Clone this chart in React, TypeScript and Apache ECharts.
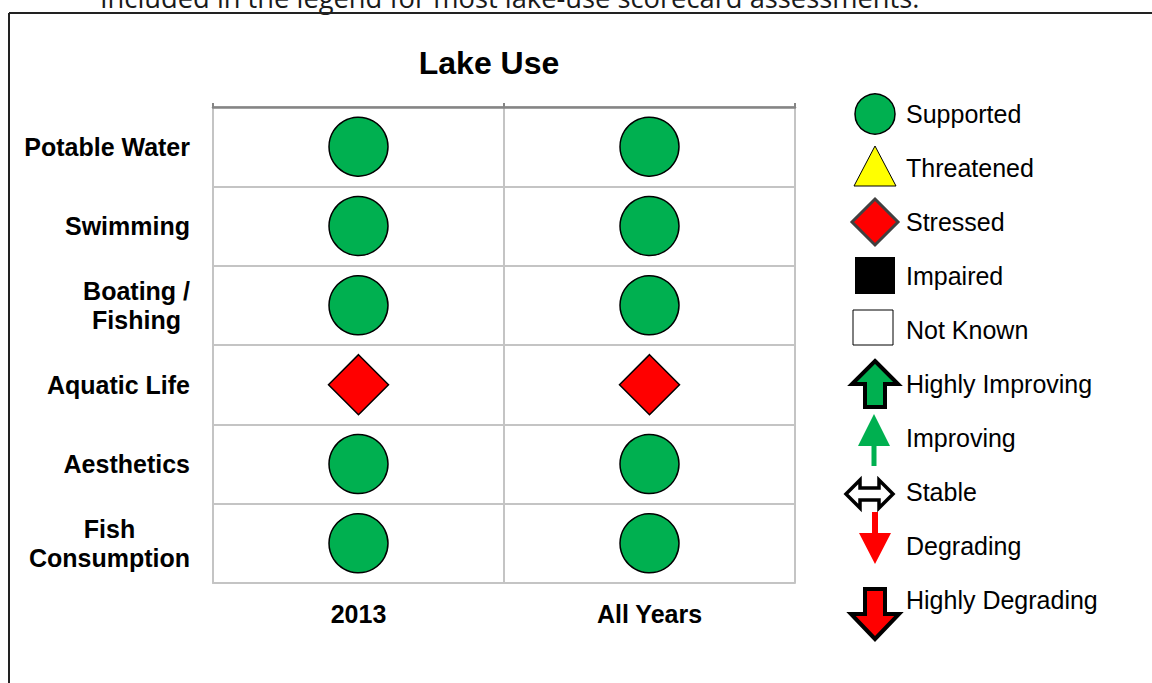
import React, { useEffect, useRef } from "react";
import * as echarts from "echarts";

const introText = "Included in the legend for most lake-use scorecard assessments.";
const chartTitle = "Lake Use";
const uses = ["Potable Water", "Swimming", "Boating /\nFishing", "Aquatic Life", "Aesthetics", "Fish\nConsumption"];
const periods = ["2013", "All Years"];
const status2013 = ["Supported", "Supported", "Supported", "Stressed", "Supported", "Supported"];
const statusAllYears = ["Supported", "Supported", "Supported", "Stressed", "Supported", "Supported"];
const legendLabels = [
  "Supported",
  "Threatened",
  "Stressed",
  "Impaired",
  "Not Known",
  "Highly Improving",
  "Improving",
  "Stable",
  "Degrading",
  "Highly Degrading",
];

const FONT = "'Liberation Sans', Arial, sans-serif";
const GREEN = "#00B050";
const RED = "#FF0000";
const GRIDC = "#c4c4c4";

function markerFor(status: string) {
  if (status === "Stressed") {
    return { symbol: "diamond", symbolSize: 60, itemStyle: { color: RED, borderColor: "#000", borderWidth: 1.5, opacity: 1 } };
  }
  return { symbol: "circle", symbolSize: 59, itemStyle: { color: GREEN, borderColor: "#000", borderWidth: 1.5, opacity: 1 } };
}

function legendIcon(label: string): any[] {
  switch (label) {
    case "Supported":
      return [{ type: "circle", shape: { cx: 0, cy: 0, r: 20 }, style: { fill: GREEN, stroke: "#000", lineWidth: 1.5 } }];
    case "Threatened":
      return [{ type: "polygon", shape: { points: [[0, -22], [21, 18], [-21, 18]] }, style: { fill: "#FFFF00", stroke: "#000", lineWidth: 1 } }];
    case "Stressed":
      return [{ type: "polygon", shape: { points: [[0, -23], [23, 0], [0, 23], [-23, 0]] }, style: { fill: RED, stroke: "#404040", lineWidth: 3 } }];
    case "Impaired":
      return [{ type: "rect", shape: { x: -20, y: -19, width: 40, height: 37 }, style: { fill: "#000" } }];
    case "Not Known":
      return [{ type: "rect", shape: { x: -22, y: -20, width: 40, height: 35 }, style: { fill: "#fff", stroke: "#000", lineWidth: 1 } }];
    case "Highly Improving":
      return [{
        type: "polygon",
        shape: { points: [[0, -23], [23, 0], [10, 0], [10, 23], [-10, 23], [-10, 0], [-23, 0]] },
        style: { fill: GREEN, stroke: "#000", lineWidth: 4, lineJoin: "miter" },
      }];
    case "Improving":
      return [{
        type: "polygon",
        shape: { points: [[-1, -24], [15, 8], [1.5, 8], [1.5, 28], [-3.5, 28], [-3.5, 8], [-17, 8]] },
        style: { fill: GREEN },
      }];
    case "Stable":
      return [{
        type: "polygon",
        shape: { points: [[-29, 2], [-15, -12], [-15, -4], [4, -4], [4, -12], [18, 2], [4, 16], [4, 8], [-15, 8], [-15, 16]] },
        style: { fill: "#fff", stroke: "#000", lineWidth: 3.5, lineJoin: "miter" },
      }];
    case "Degrading":
      return [{
        type: "polygon",
        shape: { points: [[-3, -34], [3, -34], [3, -13], [16, -13], [0, 18], [-16, -13], [-3, -13]] },
        style: { fill: RED },
      }];
    case "Highly Degrading":
      return [{
        type: "polygon",
        shape: { points: [[-10, -11], [10, -11], [10, 14], [24, 14], [0, 39], [-24, 14], [-10, 14]] },
        style: { fill: RED, stroke: "#000", lineWidth: 4, lineJoin: "miter" },
      }];
  }
  return [];
}

export default function App() {
  const ref = useRef<HTMLDivElement>(null);

  useEffect(() => {
    if (!ref.current) return;
    const chart = echarts.init(ref.current, null, { renderer: "svg" });

    const seriesData: any[] = [];
    const cols = [status2013, statusAllYears];
    cols.forEach((col, i) => {
      col.forEach((st, j) => {
        seriesData.push({ value: [periods[i], uses[j]], name: st, ...markerFor(st) });
      });
    });

    const legendGraphics: any[] = [];
    legendLabels.forEach((label, i) => {
      const cy = 114 + 54 * i;
      legendGraphics.push({ type: "group", x: 875, y: cy, children: legendIcon(label) });
      legendGraphics.push({
        type: "text",
        x: 906,
        y: cy,
        style: { text: label, font: `25px ${FONT}`, fill: "#000", verticalAlign: "middle", align: "left" },
      });
    });

    const labelRich = {
      c: { align: "center", fontWeight: "bold", fontSize: 25, fontFamily: FONT, color: "#000", lineHeight: 29 },
    };

    chart.setOption({
      animation: false,
      backgroundColor: "#fff",
      grid: { left: 213, right: 357, top: 107, bottom: 100, containLabel: false },
      xAxis: [
        {
          type: "category",
          data: periods,
          position: "bottom",
          boundaryGap: true,
          axisLine: { show: true, lineStyle: { color: GRIDC, width: 2 } },
          axisTick: { show: false },
          axisLabel: { fontWeight: "bold", fontSize: 25, fontFamily: FONT, color: "#000", margin: 18 },
          splitLine: { show: true, lineStyle: { color: GRIDC, width: 2 } },
        },
        {
          type: "category",
          data: periods,
          position: "top",
          boundaryGap: true,
          axisLine: { show: true, lineStyle: { color: "#858585", width: 2.5 } },
          axisTick: { show: true, length: 4, inside: false, lineStyle: { color: "#858585", width: 2 } },
          axisLabel: { show: false },
          splitLine: { show: false },
        },
      ],
      yAxis: {
        type: "category",
        data: uses,
        inverse: true,
        boundaryGap: true,
        axisLine: { show: true, lineStyle: { color: GRIDC, width: 2 } },
        axisTick: { show: false },
        axisLabel: {
          fontWeight: "bold",
          fontSize: 25,
          fontFamily: FONT,
          color: "#000",
          margin: 23,
          align: "right",
          formatter: (v: string) => v.split("\n").map((s) => `{c|${s}}`).join("\n"),
          rich: labelRich,
        },
        splitLine: { show: true, lineStyle: { color: GRIDC, width: 2 } },
      },
      series: [
        {
          type: "scatter",
          xAxisIndex: 0,
          data: seriesData,
          itemStyle: { opacity: 1 },
          emphasis: { disabled: true },
          z: 5,
        },
      ],
      graphic: [
        {
          type: "text",
          x: 100,
          y: 11,
          style: { text: introText, font: `27.3px 'Open Sans', sans-serif`, fill: "#1a1a1a", verticalAlign: "bottom", align: "left" },
        },
        { type: "line", shape: { x1: 9, y1: 13, x2: 1160, y2: 13 }, style: { stroke: "#222", lineWidth: 2 } },
        { type: "line", shape: { x1: 9, y1: 13, x2: 9, y2: 700 }, style: { stroke: "#222", lineWidth: 2 } },
        {
          type: "text",
          x: 489,
          y: 63,
          style: { text: chartTitle, font: `bold 32px ${FONT}`, fill: "#000", align: "center", verticalAlign: "middle" },
        },
        ...legendGraphics,
      ],
    });

    return () => chart.dispose();
  }, []);

  return (
    <div
      ref={ref}
      style={{ position: "absolute", left: 0, top: 0, width: 1152, height: 683, background: "#fff" }}
    />
  );
}
